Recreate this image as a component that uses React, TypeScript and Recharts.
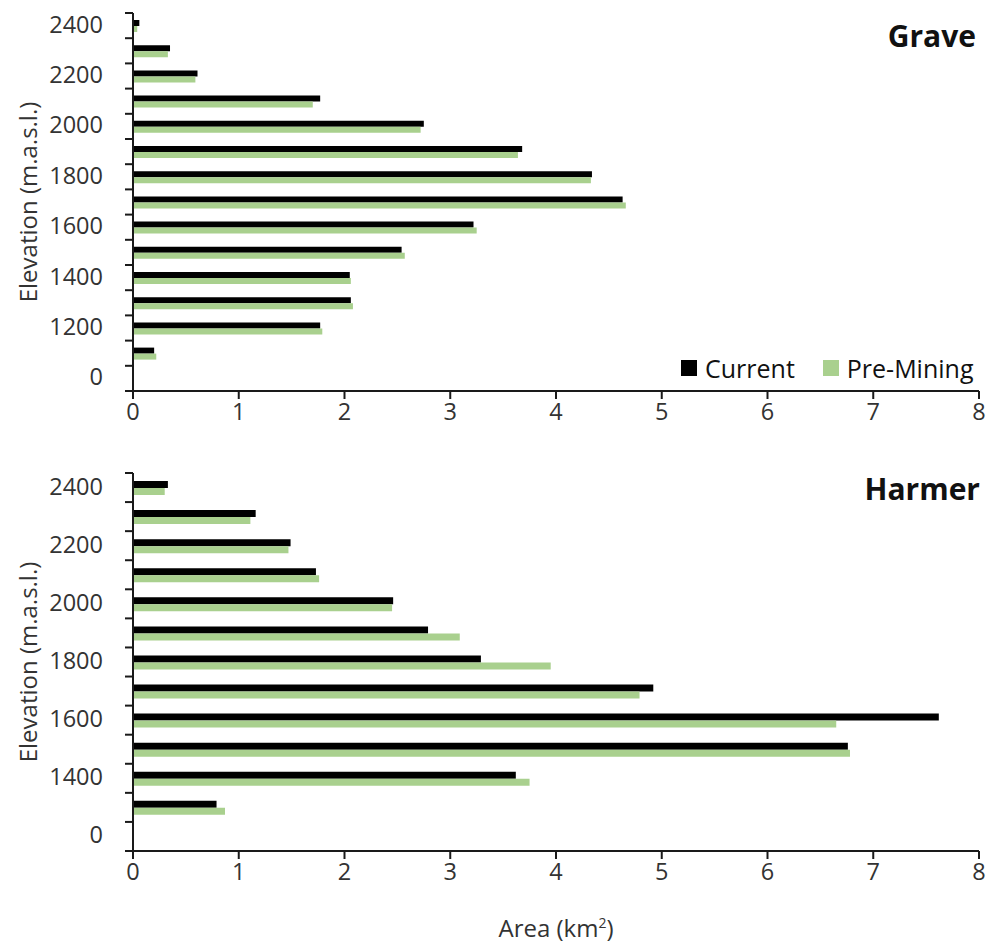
import React from 'react'
import { Bar, BarChart, XAxis, YAxis } from 'recharts'

// elevation bands, top to bottom
const graveElev = ['2400', '2300', '2200', '2100', '2000', '1900', '1800', '1700', '1600', '1500', '1400', '1300', '1200', '1100', '0']
const graveCurrent = [0.06, 0.35, 0.61, 1.77, 2.75, 3.68, 4.34, 4.63, 3.22, 2.54, 2.05, 2.06, 1.77, 0.2, null]
const gravePre = [0.04, 0.33, 0.59, 1.7, 2.72, 3.64, 4.33, 4.66, 3.25, 2.57, 2.06, 2.08, 1.79, 0.22, null]

const harmerElev = ['2400', '2300', '2200', '2100', '2000', '1900', '1800', '1700', '1600', '1500', '1400', '1300', '0']
const harmerCurrent = [0.33, 1.16, 1.49, 1.73, 2.46, 2.79, 3.29, 4.92, 7.62, 6.76, 3.62, 0.79, null]
const harmerPre = [0.3, 1.11, 1.47, 1.76, 2.45, 3.09, 3.95, 4.79, 6.65, 6.78, 3.75, 0.87, null]

const areaTicks = [0, 1, 2, 3, 4, 5, 6, 7, 8]

const FONT = '"Open Sans", sans-serif'
const GREEN = '#a9d08e'
const AXIS = '#1a1a1a'
const TEXT = '#333'

const W = 989
const H = 430
const PLOT_H = 378
const margin = { top: 13, right: 10, bottom: 9, left: 0 }

const toRows = (elev: string[], cur: (number | null)[], pre: (number | null)[]) =>
  elev.map((e, i) => ({ elev: e, current: cur[i], pre: pre[i] }))

// y ticks: tick marks sit on band edges, labels on every other band
const makeYTick = (count: number) => (props: any) => {
  const { x, y, payload, index } = props
  const band = PLOT_H / count
  const x1 = x + 22
  const x2 = x1 + 8
  return (
    <g>
      <line x1={x1} x2={x2} y1={y - band / 2} y2={y - band / 2} stroke={AXIS} strokeWidth={2} />
      {index === count - 1 && (
        <line x1={x1} x2={x2} y1={y + band / 2} y2={y + band / 2} stroke={AXIS} strokeWidth={2} />
      )}
      {index % 2 === 0 && (
        <text x={x} y={y} dy={7} textAnchor="end" fontSize={23.5} fill={TEXT} fontFamily={FONT}>
          {payload.value}
        </text>
      )}
    </g>
  )
}

function Panel({ rows, barSize }: { rows: any[]; barSize: number }) {
  return (
    <BarChart width={W} height={H} data={rows} layout="vertical" margin={margin} barGap={0}>
      <XAxis
        type="number"
        domain={[0, 8]}
        ticks={areaTicks}
        interval={0}
        height={30}
        tickSize={8}
        tickMargin={4}
        axisLine={{ stroke: AXIS, strokeWidth: 2 }}
        tickLine={{ stroke: AXIS, strokeWidth: 2 }}
        tick={{ fontSize: 23.5, fill: TEXT, fontFamily: FONT }}
      />
      <YAxis
        type="category"
        dataKey="elev"
        width={133}
        interval={0}
        tickSize={8}
        tickMargin={22}
        tickLine={false}
        axisLine={{ stroke: AXIS, strokeWidth: 2 }}
        tick={makeYTick(rows.length)}
      />
      <Bar dataKey="current" name="Current" fill="#000" barSize={barSize} isAnimationActive={false} />
      <Bar dataKey="pre" name="Pre-Mining" fill={GREEN} barSize={barSize} isAnimationActive={false} />
    </BarChart>
  )
}

const abs = (s: React.CSSProperties): React.CSSProperties => ({ position: 'absolute', fontFamily: FONT, ...s })

export default function App() {
  return (
    <div style={{ position: 'absolute', left: 0, top: 0, width: W, height: 947, background: '#fff' }}>
      <div style={abs({ left: 0, top: 0 })}>
        <Panel rows={toRows(graveElev, graveCurrent, gravePre)} barSize={6} />
      </div>
      <div style={abs({ left: 0, top: 460 })}>
        <Panel rows={toRows(harmerElev, harmerCurrent, harmerPre)} barSize={7} />
      </div>

      <div style={abs({ right: 13, top: 15, fontSize: 30, fontWeight: 700, color: '#111' })}>Grave</div>
      <div style={abs({ right: 9, top: 468, fontSize: 30, fontWeight: 700, color: '#111' })}>Harmer</div>

      <div style={abs({ left: 681, top: 351, display: 'flex', alignItems: 'center', fontSize: 25, color: '#111' })}>
        <span style={{ width: 16, height: 16, background: '#000', marginRight: 8 }} />
        <span style={{ marginRight: 28 }}>Current</span>
        <span style={{ width: 16, height: 16, background: GREEN, marginRight: 8 }} />
        <span>Pre-Mining</span>
      </div>

      {[202, 662].map((cy) => (
        <div
          key={cy}
          style={abs({
            left: 27,
            top: cy,
            transform: 'translate(-50%, -50%) rotate(-90deg)',
            whiteSpace: 'nowrap',
            fontSize: 24,
            color: TEXT,
          })}
        >
          Elevation (m.a.s.l.)
        </div>
      ))}

      <div style={abs({ left: 556, top: 928, transform: 'translate(-50%, -50%)', whiteSpace: 'nowrap', fontSize: 24, lineHeight: '28px', color: TEXT })}>
        Area (km<sup style={{ fontSize: 14, lineHeight: 0 }}>2</sup>)
      </div>
    </div>
  )
}
